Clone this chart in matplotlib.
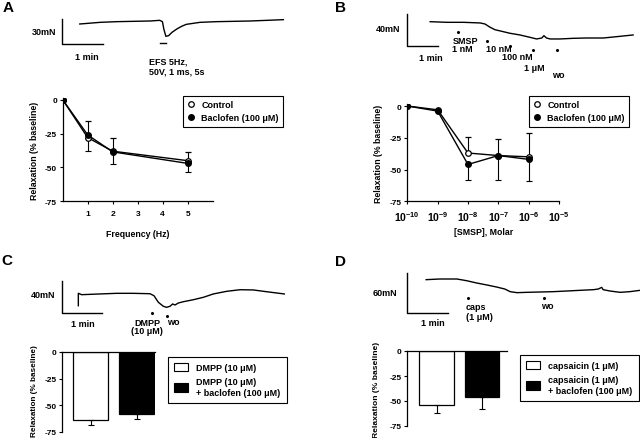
import matplotlib
matplotlib.use('Agg')
import matplotlib.pyplot as plt
from matplotlib.patches import Patch
from matplotlib.lines import Line2D

plt.rcParams['font.family'] = ['Liberation Sans', 'DejaVu Sans']
plt.rcParams['font.weight'] = 'bold'
plt.rcParams['axes.unicode_minus'] = False
plt.rcParams['mathtext.fontset'] = 'custom'
plt.rcParams['mathtext.rm'] = 'Liberation Sans:bold'
plt.rcParams['mathtext.bf'] = 'Liberation Sans:bold'

# ---- data ----
# A: EFS trace (time s, tension mN) and frequency response
efs_t = [26, 56, 80, 104, 129, 143, 147, 149, 152, 156, 161, 168, 175, 182, 202, 226, 251, 275, 300, 324]
efs_mN = [24, 26, 26.8, 27.2, 27.6, 28.4, 26.8, 18, 9.2, 10, 14, 18, 21.2, 23.6, 26, 26.8, 27.2, 27.6, 28.4, 29.2]
efs_on, efs_off = 143, 152
freq_hz = [0, 1, 2, 5]
freq_ctrl = [0, -28, -38, -45]
freq_ctrl_err = [0, 12, 10, 6.5]
freq_bac = [0, -26, -38.5, -47]
freq_bac_err = [0, 12, 9, 6]

# B: SMSP trace and concentration response
smsp_t = [45, 77, 109, 141, 150, 160, 169, 182, 198, 217, 236, 249, 259, 263, 268, 275, 294, 319, 345, 377, 409, 434]
smsp_mN = [30.4, 29.6, 29.6, 28.8, 27.5, 23.4, 20.4, 18.4, 15.9, 13.8, 10.9, 8.8, 10, 12.9, 10, 8.8, 8.8, 9.6, 10, 10, 12.1, 13.8]
smsp_add_t = [98, 153, 198, 242, 288]
smsp_M = [1e-10, 1e-9, 1e-8, 1e-7, 1e-6]
smsp_ctrl = [0, -3, -37, -39, -40]
smsp_ctrl_err = [0, 0, 13, 13, 19]
smsp_bac = [0, -4, -46, -39, -42]
smsp_bac_err = [0, 0, 12, 19, 17]

# C: DMPP trace and bars
dmpp_t = [24.5, 24.5, 29.5, 57, 82, 107, 132, 138, 144.5, 152, 157, 162, 166, 169.5, 174.5, 182, 197, 212, 227, 247, 267, 287, 307, 333.5]
dmpp_mN = [9.1, 24.6, 22.9, 23.8, 24.6, 24.6, 24.1, 21.6, 13.4, 8.4, 7.1, 8.4, 11.3, 10, 12.5, 14.1, 16.6, 19.6, 23.8, 27.1, 29.1, 28.8, 26.6, 23.8]
dmpp_add_t = [135, 157.5]
dmpp_groups = ['DMPP (10 μM)', 'DMPP (10 μM)\n+ baclofen (100 μM)']
dmpp_relax = [-64, -58]
dmpp_err = [4, 5]

# D: capsaicin trace and bars
caps_t = [28, 48, 73, 87, 102, 117, 131, 143, 151, 161, 175, 195, 214, 234, 253, 273, 280, 285, 287, 297, 312, 326, 341]
caps_mN = [50, 51, 51, 48.5, 45, 42, 39, 36, 32, 30.5, 31, 31.5, 32, 33, 34, 35, 36, 38.5, 35, 33, 31, 32, 34]
caps_add_t = [89, 200.5]
caps_groups = ['capsaicin (1 μM)', 'capsaicin (1 μM)\n+ baclofen (100 μM)']
caps_relax = [-54, -46]
caps_err = [8, 12]

yticks = [0, -25, -50, -75]
ytick_labels = ['0', '-25', '-50', '-75']

W, H = 640, 439
fig = plt.figure(figsize=(W / 100, H / 100), dpi=100)


def box(l, t, r, b):
    return [l / W, 1 - b / H, (r - l) / W, (b - t) / H]


def ftext(x, y, s, ha='left', size=6.5, **kw):
    fig.text(x / W, 1 - y / H, s, ha=ha, va='center', fontsize=size, fontweight='bold', **kw)


def trace_axes(l, t, r, b, x0, y0, px_s, px_mN):
    ax = fig.add_axes(box(l, t, r, b))
    ax.set_xlim((l - x0) / px_s, (r - x0) / px_s)
    ax.set_ylim((y0 - b) / px_mN, (y0 - t) / px_mN)
    ax.axis('off')
    return ax


def style_axes(ax):
    ax.spines['top'].set_visible(False)
    ax.spines['right'].set_visible(False)
    for s in ax.spines.values():
        s.set_linewidth(0.9)
    ax.tick_params(labelsize=6, length=2.5, width=0.8, pad=1.5)
    ax.set_yticks(yticks)
    ax.set_yticklabels(ytick_labels, fontweight='bold')


def bar_axes(ax, relax, err, colors):
    ax.bar([0, 1], relax, width=0.76, color=colors, edgecolor='black', linewidth=0.9,
           yerr=[err, [0, 0]], error_kw=dict(capsize=2, elinewidth=0.8, capthick=0.8, ecolor='black'))
    style_axes(ax)
    ax.spines['top'].set_visible(True)
    ax.spines['bottom'].set_visible(False)
    ax.set_xticks([])
    ax.set_ylim(-75, 0)


def add_legend(ax, handles, labels, x, y, **kw):
    leg = ax.legend(handles, labels, loc='upper left', bbox_to_anchor=(x / W, 1 - y / H),
                    bbox_transform=fig.transFigure, fancybox=False, edgecolor='black', framealpha=1,
                    prop=dict(size=6.5, weight='bold'), **kw)
    leg.get_frame().set_linewidth(0.8)


# panel letters
for x, y, s in [(8, 8, 'A'), (341, 8, 'B'), (7, 261, 'C'), (341, 262, 'D')]:
    ftext(x, y, s, ha='center', size=11)

# ---- A trace ----
ax = trace_axes(55, 10, 300, 50, 62, 45, 41 / 60, 25 / 30)
ax.plot(efs_t, efs_mN, color='black', lw=1.0)
ax.plot([0, 0, 60], [30, 0, 0], color='black', lw=1.0)
ax.plot([efs_on, efs_off], [1.2, 1.2], color='black', lw=1.0)
ftext(56, 32.5, '30mN', ha='right')
ftext(87, 57, '1 min', ha='center')
ftext(149, 61.5, 'EFS 5Hz,')
ftext(149, 71.5, '50V, 1 ms, 5s')

line_handles = [Line2D([], [], marker='o', ls='none', ms=4, mfc='white', mec='black', mew=0.9),
                Line2D([], [], marker='o', ls='none', ms=4, mfc='black', mec='black')]
line_kw = dict(handlelength=0.8, handletextpad=0.8, borderpad=0.5, labelspacing=0.45)

# ---- A plot ----
ax = fig.add_axes(box(62.7, 98.7, 212.7, 202.3))
ax.errorbar(freq_hz, freq_ctrl, yerr=[[0] * 4, freq_ctrl_err], color='black', lw=1.0, marker='o',
            ms=4, mfc='white', mec='black', mew=0.9, capsize=2, elinewidth=0.8, capthick=0.8)
ax.errorbar(freq_hz, freq_bac, yerr=[freq_bac_err, [0] * 4], color='black', lw=1.0, marker='o',
            ms=4, mfc='black', mec='black', capsize=2, elinewidth=0.8, capthick=0.8)
ax.set_xlim(0, 6)
ax.set_ylim(-75, 1.5)
style_axes(ax)
ax.set_xticks([1, 2, 3, 4, 5])
ax.set_xticklabels(['1', '2', '3', '4', '5'], fontweight='bold')
ax.tick_params(axis='x', pad=4)
ax.set_xlabel('Frequency (Hz)', fontsize=6.3, fontweight='bold')
ax.xaxis.set_label_coords(0.5, -0.265)
ax.set_ylabel('Relaxation (% baseline)', fontsize=6.3, fontweight='bold')
ax.yaxis.set_label_coords(-0.16, 0.5)
add_legend(ax, line_handles, ['Control', 'Baclofen (100 μM)'], 178, 92, **line_kw)

# ---- B trace ----
ax = trace_axes(400, 10, 640, 55, 406.7, 47, 31.3 / 60, 32 / 40)
ax.plot(smsp_t, smsp_mN, color='black', lw=1.0)
ax.plot([0, 0, 60], [40, 0, 0], color='black', lw=1.0)
ax.plot(smsp_add_t, [17.5, 6.25, 0, -5, -5], 'o', color='black', ms=1.2)
ftext(400, 30, '40mN', ha='right')
ftext(431, 58.5, '1 min', ha='center')
ftext(452.5, 41, 'SMSP')
ftext(452.5, 50, '1 nM')
ftext(486, 49.5, '10 nM')
ftext(502, 57.5, '100 nM')
ftext(524, 68.5, '1 μM')
ftext(552, 76, 'wo')

# ---- B plot ----
ax = fig.add_axes(box(407.3, 105.1, 559, 202.3))
ax.errorbar(smsp_M, smsp_ctrl, yerr=[[0] * 5, smsp_ctrl_err], color='black', lw=1.0, marker='o',
            ms=4, mfc='white', mec='black', mew=0.9, capsize=2, elinewidth=0.8, capthick=0.8)
ax.errorbar(smsp_M, smsp_bac, yerr=[smsp_bac_err, [0] * 5], color='black', lw=1.0, marker='o',
            ms=4, mfc='black', mec='black', capsize=2, elinewidth=0.8, capthick=0.8)
ax.set_xscale('log')
ax.set_xlim(1e-10, 1e-5)
ax.set_ylim(-75, 1.5)
style_axes(ax)
ax.set_xticks([1e-10, 1e-9, 1e-8, 1e-7, 1e-6, 1e-5])
ax.set_xticklabels([r'$10^{-10}$', r'$10^{-9}$', r'$10^{-8}$', r'$10^{-7}$', r'$10^{-6}$', r'$10^{-5}$'])
ax.minorticks_off()
ax.tick_params(axis='x', pad=3, labelsize=7.5)
ax.set_xlabel('[SMSP], Molar', fontsize=6.3, fontweight='bold')
ax.xaxis.set_label_coords(0.5, -0.265)
ax.set_ylabel('Relaxation (% baseline)', fontsize=6.3, fontweight='bold')
ax.yaxis.set_label_coords(-0.16, 0.5)
add_legend(ax, line_handles, ['Control', 'Baclofen (100 μM)'], 524, 92, **line_kw)

bar_handles = [Patch(facecolor='white', edgecolor='black', lw=0.8),
               Patch(facecolor='black', edgecolor='black', lw=0.8)]
bar_kw = dict(handlelength=1.6, handleheight=1.0, handletextpad=0.9, borderpad=0.7, labelspacing=0.6)

# ---- C trace ----
ax = trace_axes(55, 275, 300, 320, 62, 314, 40 / 60, 32 / 40)
ax.plot(dmpp_t, dmpp_mN, color='black', lw=1.0)
ax.plot([0, 0, 60], [40, 0, 0], color='black', lw=1.0)
ax.plot(dmpp_add_t, [0, -3.75], 'o', color='black', ms=1.2)
ftext(55, 296, '40mN', ha='right')
ftext(82.5, 324.5, '1 min', ha='center')
ftext(147.5, 323, 'DMPP', ha='center')
ftext(147, 331, '(10 μM)', ha='center')
ftext(167, 322.5, 'wo')

# ---- C bars ----
ax = fig.add_axes(box(62, 353, 155, 433))
bar_axes(ax, dmpp_relax, dmpp_err, ['white', 'black'])
ax.set_xlim(-0.62, 1.40)
ax.set_ylabel('Relaxation (% baseline)', fontsize=5.9, fontweight='bold')
ax.yaxis.set_label_coords(-0.26, 0.53)
add_legend(ax, bar_handles, dmpp_groups, 163, 353, **bar_kw)

# ---- D trace ----
ax = trace_axes(400, 265, 640, 320, 407, 314, 41 / 60, 40 / 60)
ax.plot(caps_t, caps_mN, color='black', lw=1.0)
ax.plot([0, 0, 60], [60, 0, 0], color='black', lw=1.0)
ax.plot(caps_add_t, [22.5, 22.5], 'o', color='black', ms=1.2)
ftext(397, 294, '60mN', ha='right')
ftext(433, 323.5, '1 min', ha='center')
ftext(466, 308, 'caps')
ftext(466, 318, '(1 μM)')
ftext(541, 307, 'wo')

# ---- D bars ----
ax = fig.add_axes(box(407, 352, 507, 427))
bar_axes(ax, caps_relax, caps_err, ['white', 'black'])
ax.set_xlim(-0.65, 1.55)
ax.set_ylabel('Relaxation (% baseline)', fontsize=6.1, fontweight='bold')
ax.yaxis.set_label_coords(-0.27, 0.5)
add_legend(ax, bar_handles, caps_groups, 515, 351, **bar_kw)

fig.savefig('out.png', dpi=100)
